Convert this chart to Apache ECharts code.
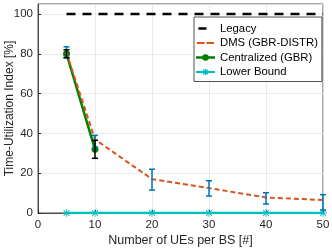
<!DOCTYPE html>
<html><head><meta charset="utf-8">
<script src="https://cdn.jsdelivr.net/npm/echarts@6/dist/echarts.min.js"></script>
<style>html,body{margin:0;padding:0;background:#fff}#c{width:332px;height:250px}</style>
</head><body><div id="c"></div>
<script>
const xs = [5, 10, 20, 30, 40, 50];
const legacy = [100, 100, 100, 100, 100, 100];
const dms = [80.5, 37, 17, 12.5, 7.8, 6.5];
const dmsLow = [78, 33, 11.5, 8.5, 4.5, 1.5];
const dmsHigh = [83.5, 39, 22, 16.2, 10.2, 9.2];
const centX = [5, 10];
const cent = [80, 32];
const centLow = [78, 27.5];
const centHigh = [82, 36.5];
const lower = [0, 0, 0, 0, 0, 0];
const xTicks = [0, 10, 20, 30, 40, 50];
const yTicks = [0, 20, 40, 60, 80, 100];

const star = 'path://M-1,-10L1,-10L1,10L-1,10Z M-10,-1L10,-1L10,1L-10,1Z M-8,-6.5L-6.5,-8L8,6.5L6.5,8Z M6.5,-8L8,-6.5L-6.5,8L-8,6.5Z';
const bb = 'M0,0L0.01,0L0,0.01Z M20,10L19.99,10L20,9.99Z ';
const icLegacy = 'path://' + bb + 'M2.5,3.8L11,3.8L11,6.2L2.5,6.2Z';
const icDms = 'path://' + bb + 'M1,4L9,4L9,6L1,6Z M11,4L19,4L19,6L11,6Z';
const icCent = 'path://' + bb + 'M0,3.8L20,3.8L20,6.2L0,6.2Z M13.5,5A3.5,3.5 0 1 1 6.5,5A3.5,3.5 0 1 1 13.5,5Z';
const icLow = 'path://' + bb + 'M0,3.9L20,3.9L20,6.1L0,6.1Z M9.3,1.5L10.7,1.5L10.7,8.5L9.3,8.5Z M7,3L8,2L13,7L12,8Z M12,2L13,3L8,8L7,7Z';

function pairs(x, y){ return x.map((v,i)=>[v,y[i]]); }
function errSeries(x, lo, hi, color){
  return {
    type:'custom', silent:true, z:5,
    data: x.map((v,i)=>[v, lo[i], hi[i]]),
    renderItem(params, api){
      const p1 = api.coord([api.value(0), api.value(1)]);
      const p2 = api.coord([api.value(0), api.value(2)]);
      const w = 3;
      const st = {stroke:color, lineWidth:1.5};
      return {type:'group', children:[
        {type:'line', shape:{x1:p1[0],y1:p1[1],x2:p2[0],y2:p2[1]}, style:st},
        {type:'line', shape:{x1:p1[0]-w,y1:p1[1],x2:p1[0]+w,y2:p1[1]}, style:st},
        {type:'line', shape:{x1:p2[0]-w,y1:p2[1],x2:p2[0]+w,y2:p2[1]}, style:st}
      ]};
    }
  };
}
const chart = echarts.init(document.getElementById('c'));
const F = 'Liberation Sans, Arial, sans-serif';
const noStroke = {borderWidth:0};
chart.setOption({
  animation:false,
  textStyle:{fontFamily:F},
  grid:{left:38, right:9, top:4, bottom:37, containLabel:false, outerBoundsMode:'none',
    show:true, borderColor:'#262626', borderWidth:0.8},
  xAxis:{type:'value', min:0, max:50, interval:10,
    name:'Number of UEs per BS [#]', nameLocation:'middle', nameGap:21, nameMoveOverlap:false,
    nameTextStyle:{fontSize:12.5, color:'#262626', fontFamily:F},
    axisLine:{show:true, onZero:false, lineStyle:{color:'#262626', width:0.8}},
    axisTick:{show:true, inside:true, length:3, lineStyle:{color:'#262626'}},
    axisLabel:{fontSize:11.5, color:'#262626', margin:6, formatter:v=>xTicks.includes(v)?String(v):''},
    splitLine:{show:true, lineStyle:{color:'#e6e6e6', width:0.8}}},
  yAxis:{type:'value', min:0, max:105, interval:20,
    name:'Time-Utilization Index [%]', nameLocation:'middle', nameGap:22, nameMoveOverlap:false,
    nameTextStyle:{fontSize:12, color:'#262626', fontFamily:F},
    axisLine:{show:true, onZero:false, lineStyle:{color:'#262626', width:0.8}},
    axisTick:{show:true, inside:true, length:3, lineStyle:{color:'#262626'}},
    axisLabel:{fontSize:11.5, color:'#262626', margin:5, showMaxLabel:false, formatter:v=>yTicks.includes(v)?String(v):''},
    splitLine:{show:true, lineStyle:{color:'#e6e6e6', width:0.8}}},
  legend:{orient:'vertical', left:194, top:17, itemGap:3.5, itemWidth:19, itemHeight:10,
    padding:[6,4,4,2], backgroundColor:'#fff', borderColor:'#262626', borderWidth:0.8,
    textStyle:{fontSize:11.3, color:'#000', fontFamily:F},
    data:[
      {name:'Legacy', icon:icLegacy, itemStyle:noStroke},
      {name:'DMS (GBR-DISTR)', icon:icDms, itemStyle:noStroke},
      {name:'Centralized (GBR)', icon:icCent, itemStyle:noStroke},
      {name:'Lower Bound', icon:icLow, itemStyle:noStroke}
    ]},
  series:[
    {name:'Legacy', type:'line', data:pairs(xs,legacy), showSymbol:false, symbol:'none',
      lineStyle:{color:'#000', width:2.5, type:[9,7]}, itemStyle:{color:'#000'}, z:3},
    {name:'DMS (GBR-DISTR)', type:'line', data:pairs(xs,dms), symbol:'none',
      lineStyle:{color:'#D95319', width:2, type:[5,3]}, itemStyle:{color:'#D95319'}, z:4},
    {name:'Centralized (GBR)', type:'line', data:pairs(centX,cent), symbol:'circle', symbolSize:7,
      lineStyle:{color:'#008000', width:2.5}, itemStyle:{color:'#008000'}, z:3},
    {name:'Lower Bound', type:'line', data:pairs(xs,lower), symbol:star, symbolSize:8,
      lineStyle:{color:'#00BFBF', width:2.5}, itemStyle:{color:'#00BFBF'}, z:3},
    errSeries(xs, dmsLow, dmsHigh, '#0072BD'),
    errSeries(centX, centLow, centHigh, '#000')
  ]
});
</script></body></html>
